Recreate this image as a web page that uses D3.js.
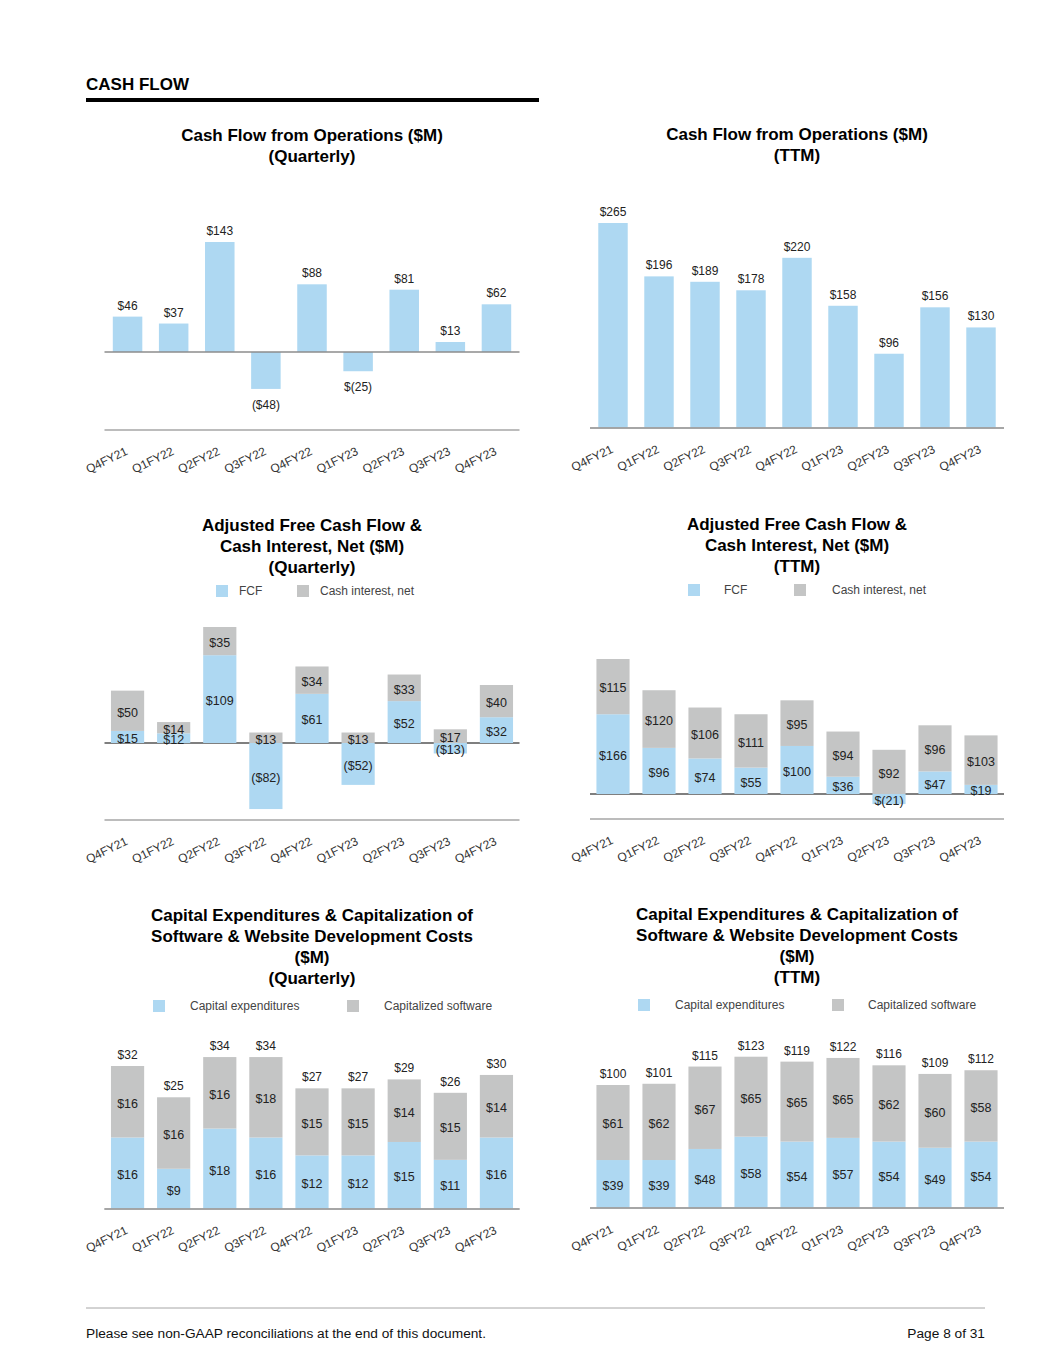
<!DOCTYPE html>
<html>
<head>
<meta charset="utf-8">
<script src="https://cdn.jsdelivr.net/npm/d3@7"></script>
<style>
  body { margin: 0; background: #fff; }
  svg { font-family: "Liberation Sans", Arial, sans-serif; display: block; }
</style>
</head>
<body>
<div id="page"></div>
<script>
// quarters shared by every chart
const quarters = ["Q4FY21","Q1FY22","Q2FY22","Q3FY22","Q4FY22","Q1FY23","Q2FY23","Q3FY23","Q4FY23"];

// cash flow from operations
const cfoQuarterly = [46, 37, 143, -48, 88, -25, 81, 13, 62];
const cfoTTM = [265, 196, 189, 178, 220, 158, 96, 156, 130];

// adjusted FCF + cash interest
const fcfQuarterly = [15, 12, 109, -82, 61, -52, 52, -13, 32];
const interestQuarterly = [50, 14, 35, 13, 34, 13, 33, 17, 40];
const fcfTTM = [166, 96, 74, 55, 100, 36, -21, 47, 19];
const interestTTM = [115, 120, 106, 111, 95, 94, 92, 96, 103];

// capex + capitalized software
const capexQuarterly = [16, 9, 18, 16, 12, 12, 15, 11, 16];
const softwareQuarterly = [16, 16, 16, 18, 15, 15, 14, 15, 14];
const capexTotalQuarterly = [32, 25, 34, 34, 27, 27, 29, 26, 30];
const capexTTM = [39, 39, 48, 58, 54, 57, 54, 49, 54];
const softwareTTM = [61, 62, 67, 65, 65, 65, 62, 60, 58];
const capexTotalTTM = [100, 101, 115, 123, 119, 122, 116, 109, 112];

// a couple of negatives are printed as $(x) instead of ($x)
const altNeg = ["cfoQ:Q1FY23", "fcfT:Q2FY23"];

const BLUE = "#aed8f2", GRAY = "#c4c5c5";

function fmt(v, key, q){
  if (v >= 0) return "$" + v;
  return altNeg.includes(key + ":" + q) ? "$(" + (-v) + ")" : "($" + (-v) + ")";
}

const svg = d3.select("#page").append("svg")
  .attr("width", 1055).attr("height", 1365);

// header
svg.append("text").attr("x", 86).attr("y", 90)
  .attr("font-size", 17).attr("font-weight", "bold").attr("fill", "#000")
  .text("CASH FLOW");
svg.append("rect").attr("x", 86).attr("y", 98).attr("width", 453).attr("height", 4).attr("fill", "#000");

// footer
svg.append("line").attr("x1", 86).attr("x2", 985).attr("y1", 1308).attr("y2", 1308)
  .attr("stroke", "#a6a6a6").attr("stroke-width", 1);
svg.append("text").attr("x", 86).attr("y", 1338).attr("font-size", 13.7).attr("fill", "#111")
  .text("Please see non-GAAP reconciliations at the end of this document.");
svg.append("text").attr("x", 985).attr("y", 1338).attr("font-size", 13.7).attr("fill", "#111")
  .attr("text-anchor", "end").text("Page 8 of 31");

function chart(o){
  const g = svg.append("g");
  const x = d3.scaleBand().domain(quarters).range(o.xr).paddingInner(o.pad).paddingOuter(o.pad / 2);
  const y = d3.scaleLinear().domain(o.yd).range(o.yr);
  const cx = (o.xr[0] + o.xr[1]) / 2;

  // title
  g.append("g").selectAll("text").data(o.title).join("text")
    .attr("x", cx).attr("y", (d, i) => o.titleY + i * 21)
    .attr("text-anchor", "middle").attr("font-size", 17).attr("font-weight", "bold")
    .attr("fill", "#000").text(d => d);

  // legend
  if (o.legend){
    const lg = g.append("g").selectAll("g").data(o.legend).join("g")
      .attr("transform", d => `translate(${d.x},${o.legendY})`);
    lg.append("rect").attr("x", 0).attr("y", -6).attr("width", 12).attr("height", 12)
      .attr("fill", d => d.color);
    lg.append("text").attr("x", d => d.tx).attr("y", 4).attr("font-size", 12)
      .attr("fill", "#444").text(d => d.label);
  }

  // zero line (drawn under bars) and bottom axis
  if (o.zeroLine){
    g.append("line").attr("x1", o.xr[0]).attr("x2", o.xr[1])
      .attr("y1", y(0)).attr("y2", y(0)).attr("stroke", "#555").attr("stroke-width", 1.5);
  }

  // stacked series: positive stacks up from 0, negative down from 0
  const bars = g.append("g");
  const posBase = quarters.map(() => 0), negBase = quarters.map(() => 0);
  o.series.forEach(s => {
    s.values.forEach((v, i) => {
      const q = quarters[i];
      let y0, y1;
      if (v >= 0){ y0 = posBase[i]; y1 = y0 + v; posBase[i] = y1; }
      else { y0 = negBase[i]; y1 = y0 + v; negBase[i] = y1; }
      bars.append("rect")
        .attr("x", x(q)).attr("width", x.bandwidth())
        .attr("y", y(Math.max(y0, y1))).attr("height", Math.abs(y(y0) - y(y1)))
        .attr("fill", s.color);
      if (s.inside){
        bars.append("text").attr("x", x(q) + x.bandwidth() / 2)
          .attr("y", (y(y0) + y(y1)) / 2 + 1.5).attr("dy", "0.35em")
          .attr("text-anchor", "middle").attr("font-size", 12.5).attr("fill", "#222")
          .text(fmt(v, o.key, q));
      }
    });
  });

  // outside labels (single series values or totals)
  if (o.outside){
    g.append("g").selectAll("text").data(o.outside).join("text")
      .attr("x", (d, i) => x(quarters[i]) + x.bandwidth() / 2)
      .attr("y", d => d >= 0 ? y(d) - 7 : y(d) + 20)
      .attr("text-anchor", "middle").attr("font-size", 12).attr("fill", "#222")
      .text((d, i) => fmt(d, o.key, quarters[i]));
  }

  if (!o.zeroLine){
    g.append("line").attr("x1", o.xr[0]).attr("x2", o.xr[1])
      .attr("y1", y(0)).attr("y2", y(0)).attr("stroke", "#8c8c8c").attr("stroke-width", 1.5);
  }

  // bottom axis with rotated labels
  const axis = g.append("g").attr("transform", `translate(0,${o.axisY})`)
    .call(d3.axisBottom(x).tickSize(0).tickPadding(0));
  axis.select(".domain").attr("stroke", "#a6a6a6").attr("stroke-width", 1.5)
    .attr("d", `M${o.xr[0]},0H${o.xr[1]}`);
  axis.selectAll(".tick text")
    .attr("font-family", "Liberation Sans, Arial, sans-serif")
    .attr("font-size", 12).attr("fill", "#333")
    .attr("text-anchor", "end").attr("dy", 0).attr("y", 0)
    .attr("transform", "translate(1,24) rotate(-26)");
}

const leftX = [104.5, 519.5], rightX = [590, 1004];

chart({ key: "cfoQ", xr: leftX, pad: 0.36, yd: [0, 143], yr: [352, 242], axisY: 430,
  title: ["Cash Flow from Operations ($M)", "(Quarterly)"], titleY: 141,
  series: [{ values: cfoQuarterly, color: BLUE }], outside: cfoQuarterly });

chart({ key: "cfoT", xr: rightX, pad: 0.36, yd: [0, 265], yr: [428, 223], axisY: 428,
  title: ["Cash Flow from Operations ($M)", "(TTM)"], titleY: 140,
  series: [{ values: cfoTTM, color: BLUE }], outside: cfoTTM });

chart({ key: "fcfQ", xr: leftX, pad: 0.28, yd: [0, 144], yr: [743, 627], axisY: 820, zeroLine: true,
  title: ["Adjusted Free Cash Flow &", "Cash Interest, Net ($M)", "(Quarterly)"], titleY: 531,
  legendY: 591, legend: [
    { x: 216, tx: 23, label: "FCF", color: BLUE },
    { x: 297, tx: 23, label: "Cash interest, net", color: GRAY }],
  series: [{ values: fcfQuarterly, color: BLUE, inside: true },
           { values: interestQuarterly, color: GRAY, inside: true }] });

chart({ key: "fcfT", xr: rightX, pad: 0.28, yd: [0, 281], yr: [794, 659], axisY: 819, zeroLine: true,
  title: ["Adjusted Free Cash Flow &", "Cash Interest, Net ($M)", "(TTM)"], titleY: 530,
  legendY: 590, legend: [
    { x: 688, tx: 36, label: "FCF", color: BLUE },
    { x: 794, tx: 38, label: "Cash interest, net", color: GRAY }],
  series: [{ values: fcfTTM, color: BLUE, inside: true },
           { values: interestTTM, color: GRAY, inside: true }] });

chart({ key: "capQ", xr: leftX, pad: 0.28, yd: [0, 32], yr: [1209, 1066], axisY: 1209,
  title: ["Capital Expenditures & Capitalization of", "Software & Website Development Costs", "($M)", "(Quarterly)"], titleY: 921,
  legendY: 1006, legend: [
    { x: 153, tx: 37, label: "Capital expenditures", color: BLUE },
    { x: 347, tx: 37, label: "Capitalized software", color: GRAY }],
  series: [{ values: capexQuarterly, color: BLUE, inside: true },
           { values: softwareQuarterly, color: GRAY, inside: true }],
  outside: capexTotalQuarterly });

chart({ key: "capT", xr: rightX, pad: 0.28, yd: [0, 100], yr: [1208, 1085], axisY: 1208,
  title: ["Capital Expenditures & Capitalization of", "Software & Website Development Costs", "($M)", "(TTM)"], titleY: 920,
  legendY: 1005, legend: [
    { x: 638, tx: 37, label: "Capital expenditures", color: BLUE },
    { x: 832, tx: 36, label: "Capitalized software", color: GRAY }],
  series: [{ values: capexTTM, color: BLUE, inside: true },
           { values: softwareTTM, color: GRAY, inside: true }],
  outside: capexTotalTTM });
</script>
</body>
</html>
